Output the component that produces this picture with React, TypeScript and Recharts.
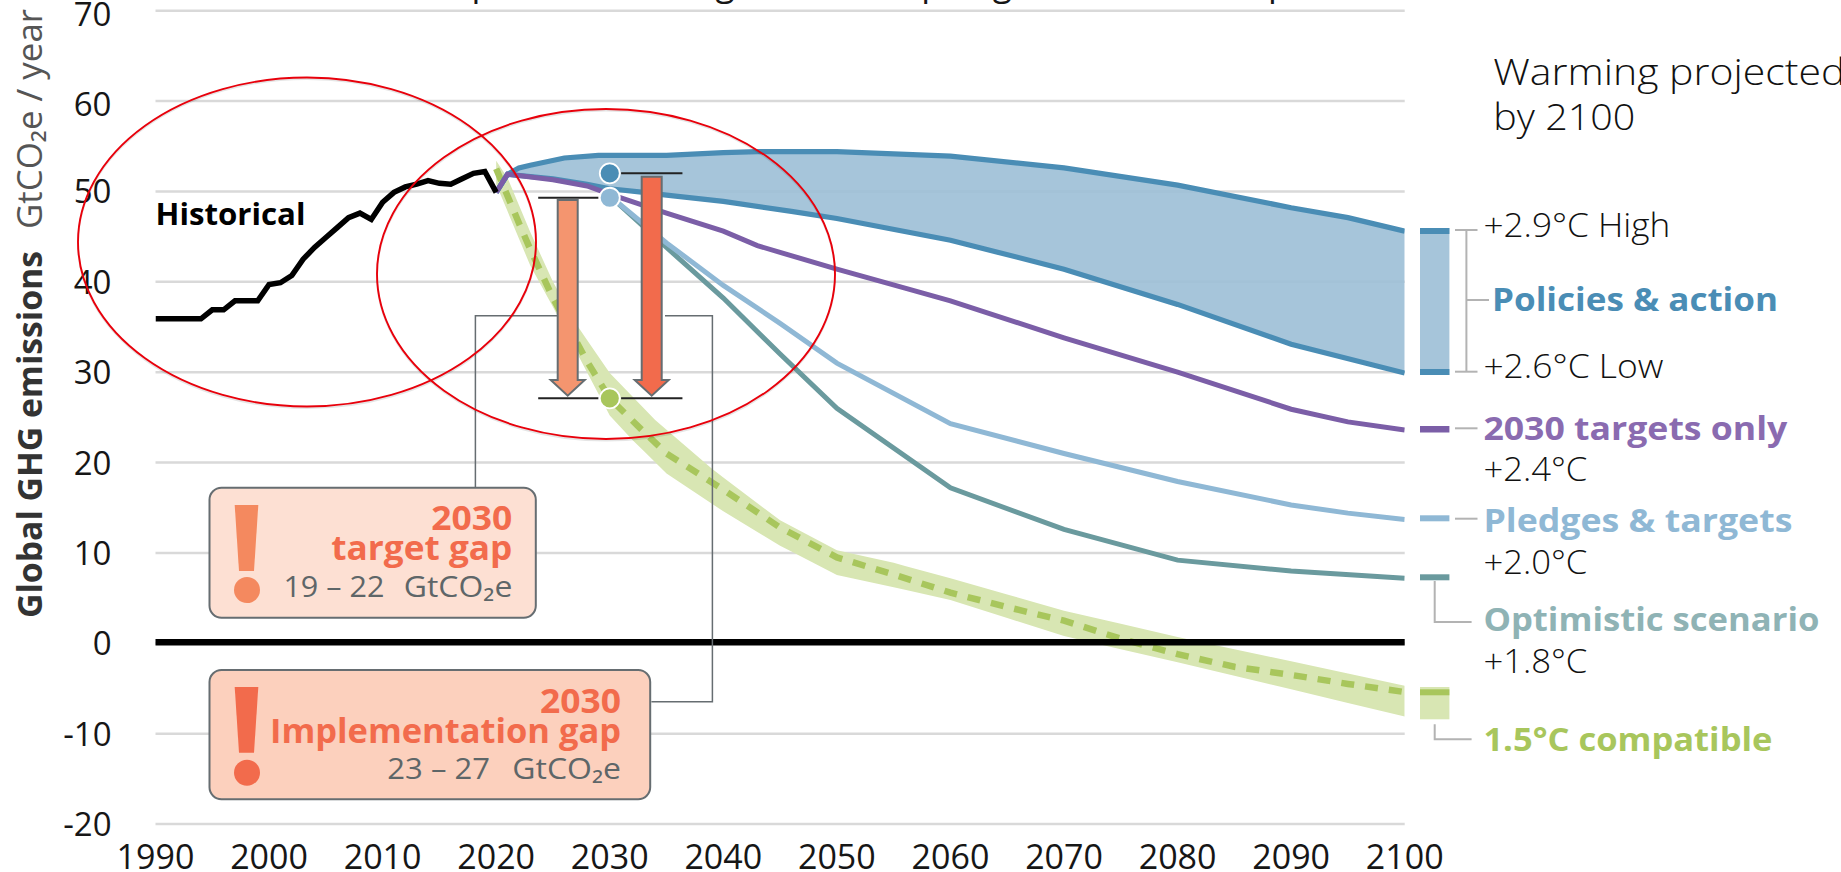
import React from "react";
import { ComposedChart, Line, Area, XAxis, YAxis, CartesianGrid, ReferenceLine, ReferenceDot } from "recharts";

const FONT = "'Open Sans', 'Noto Sans', sans-serif";
const xTicks = [1990, 2000, 2010, 2020, 2030, 2040, 2050, 2060, 2070, 2080, 2090, 2100];
const yTicks = [-20, -10, 0, 10, 20, 30, 40, 50, 60, 70];

const historical: [number, number][] = [[1990,35.9],[1991,35.9],[1992,35.9],[1993,35.9],[1994,35.9],[1995,36.9],[1996,36.9],[1997,37.9],[1998,37.9],[1999,37.9],[2000,39.7],[2001,39.9],[2002,40.7],[2003,42.5],[2004,43.8],[2005,44.9],[2006,46],[2007,47.1],[2008,47.6],[2009,46.9],[2010,48.8],[2011,49.9],[2012,50.5],[2013,50.8],[2014,51.2],[2015,50.9],[2016,50.8],[2017,51.4],[2018,52],[2019,52.2],[2020,49.9]];
const policiesHigh: [number, number][] = [[2020,49.9],[2021,51.9],[2022,52.6],[2023,52.9],[2026,53.7],[2029,54],[2035,54],[2040,54.3],[2043,54.4],[2050,54.4],[2060,53.9],[2070,52.6],[2080,50.7],[2090,48.2],[2095,47.1],[2100,45.6]];
const policiesLow: [number, number][] = [[2020,49.9],[2021,51.9],[2025,51.4],[2028,50.8],[2030,50.3],[2033,49.9],[2035,49.6],[2040,48.9],[2046,47.8],[2050,47],[2060,44.6],[2070,41.4],[2080,37.5],[2090,33.1],[2100,29.9]];
const targets2030: [number, number][] = [[2020,49.9],[2021,51.9],[2025,51.3],[2028,50.6],[2030,49.7],[2035,47.6],[2040,45.6],[2043,44],[2050,41.4],[2056,39.3],[2060,37.9],[2070,33.8],[2080,30],[2090,25.9],[2095,24.5],[2100,23.6]];
const pledges: [number, number][] = [[2030,49.5],[2035,44.3],[2040,39.6],[2045,35.4],[2050,31],[2060,24.3],[2070,21],[2080,17.9],[2090,15.3],[2095,14.4],[2100,13.7]];
const optimistic: [number, number][] = [[2030,49.5],[2035,43.8],[2040,38.2],[2045,32],[2050,26],[2060,17.2],[2070,12.6],[2080,9.2],[2090,8],[2100,7.2]];
const compat: [number, number][] = [[2020,52.5],[2021,49.5],[2022,46.5],[2023,43.6],[2025,38.2],[2028,31.2],[2030,27.1],[2033,23.4],[2035,21],[2040,17],[2045,12.8],[2050,9.5],[2055,7.6],[2060,5.6],[2065,4],[2070,2.5],[2075,0.5],[2080,-1.2],[2085,-2.6],[2090,-3.5],[2095,-4.5],[2100,-5.4]];
const compatHigh: [number, number][] = [[2020,53.4],[2021,51.5],[2023,45.5],[2025,40],[2027,35.4],[2030,29.9],[2034,24.7],[2039,19.3],[2045,13.6],[2050,10.3],[2055,8.9],[2060,7.2],[2070,3.6],[2080,0.7],[2090,-2],[2100,-4.7]];
const compatLow: [number, number][] = [[2020,50.8],[2023,41.8],[2025,37.2],[2030,25.2],[2032,22.5],[2035,18.8],[2040,14.6],[2045,10.8],[2050,7.55],[2055,6.2],[2060,4.8],[2070,0.8],[2080,-2.1],[2090,-5.1],[2100,-8.1]];
const gapHigh = 52;
const gapMid = 49.3;
const gapLow = 27.1;

const years = Array.from(new Set([historical, policiesHigh, policiesLow, targets2030, pledges, optimistic, compat, compatHigh, compatLow].flat().map((p) => p[0]))).sort((a, b) => a - b);
const at = (s: [number, number][], y: number) => { const f = s.find((p) => p[0] === y); return f ? f[1] : undefined; };
// value of a polyline at any listed year, so that two-edged bands share rows
const lerp = (s: [number, number][], y: number) => {
  if (y < s[0][0] || y > s[s.length - 1][0]) return undefined;
  for (let i = 1; i < s.length; i++) {
    if (y <= s[i][0]) { const [x0, v0] = s[i - 1]; const [x1, v1] = s[i]; return v0 + ((v1 - v0) * (y - x0)) / (x1 - x0); }
  }
  return undefined;
};
const band = (lo: [number, number][], hi: [number, number][], y: number) => { const a = lerp(lo, y); const b = lerp(hi, y); return a === undefined || b === undefined ? undefined : [a, b]; };
const table = years.map((year) => ({
  year,
  historical: at(historical, year), policiesHigh: at(policiesHigh, year), policiesLow: at(policiesLow, year),
  targets2030: at(targets2030, year), pledges: at(pledges, year), optimistic: at(optimistic, year), compat: at(compat, year),
  policiesBand: band(policiesLow, policiesHigh, year), compatBand: band(compatLow, compatHigh, year),
}));

const BLUE = "#4a8db5", LBLUE = "#8fb8d5", PURPLE = "#7b5ea7", TEAL = "#6a9a9e", GREEN = "#a8c65c", GREENF = "#d8e6b3", GREY = "#666d71", BR = "#b3b3b3", OR1 = "#f4895f", OR2 = "#f26b4c", INK = "#161616";

const T = (p: any) => <text fontFamily={FONT} fontSize={33} {...p} />;
const fit = (w: number) => ({ textLength: w, lengthAdjust: "spacingAndGlyphs" });

const XTick = ({ x, y, payload }: any) => (
  <text x={x} y={y + 33} textAnchor="middle" fontFamily={FONT} fontSize={34} fill={INK}>{payload.value}</text>
);
const YTick = ({ x, y, payload }: any) => (
  <text x={x} y={y + 12 + (payload.value >= 60 ? 3 : 0)} textAnchor="end" fontFamily={FONT} fontSize={33} fill={INK}>{payload.value}</text>
);

function Bang({ y0, y1, cy, fill }: any) {
  return <g fill={fill}>
    <polygon points={`234.7,${y0} 258.3,${y0} 254,${y1} 239,${y1}`} />
    <ellipse cx={247} cy={cy} rx={13} ry={13} />
  </g>;
}
function Arrow({ x0, x1, top, fill }: any) {
  const s = 380, tip = 395.7, o = 7;
  return <polygon points={`${x0},${top} ${x1},${top} ${x1},${s} ${x1 + o},${s} ${(x0 + x1) / 2},${tip} ${x0 - o},${s} ${x0},${s}`} fill={fill} stroke={GREY} strokeWidth={2} />;
}

export default function App() {
  return (
    <div style={{ position: "absolute", left: 0, top: 0, width: 1841, height: 872, overflow: "hidden", background: "#fff" }}>
      <div style={{ position: "absolute", left: 0, top: 0 }}>
        <ComposedChart width={1841} height={872} data={table} margin={{ top: 10.7, left: 95.5, right: 436.3, bottom: 0 }}>
          <CartesianGrid horizontal vertical={false} stroke="#d9d9d9" strokeWidth={2.5} syncWithTicks />
          <XAxis dataKey="year" type="number" domain={[1990, 2100]} ticks={xTicks} interval={0} height={48} axisLine={false} tickLine={false} tickMargin={6} tick={<XTick />} allowDataOverflow />
          <YAxis type="number" domain={[-20, 70]} ticks={yTicks} interval={0} width={60} axisLine={false} tickLine={false} tickMargin={38} tick={<YTick />} allowDataOverflow />
          <Area dataKey="compatBand" connectNulls stroke="none" fill={GREENF} fillOpacity={1} isAnimationActive={false} dot={false} activeDot={false} />
          <Area dataKey="policiesBand" connectNulls stroke="none" fill="#9cbfd6" fillOpacity={0.9} isAnimationActive={false} dot={false} activeDot={false} />
          <Line dataKey="compat" connectNulls stroke={GREEN} strokeWidth={6.5} strokeDasharray="13 11" dot={false} isAnimationActive={false} />
          <ReferenceLine y={0.1} stroke="#000" strokeWidth={6.5} />
          <Line dataKey="optimistic" connectNulls stroke={TEAL} strokeWidth={5} dot={false} isAnimationActive={false} />
          <Line dataKey="pledges" connectNulls stroke={LBLUE} strokeWidth={5} dot={false} isAnimationActive={false} />
          <Line dataKey="policiesHigh" connectNulls stroke={BLUE} strokeWidth={5.2} dot={false} isAnimationActive={false} />
          <Line dataKey="policiesLow" connectNulls stroke={BLUE} strokeWidth={5.2} dot={false} isAnimationActive={false} />
          <Line dataKey="targets2030" connectNulls stroke={PURPLE} strokeWidth={5} dot={false} isAnimationActive={false} />
          <Line dataKey="historical" connectNulls stroke="#000" strokeWidth={5.5} dot={false} isAnimationActive={false} />
          <ReferenceLine segment={[{ x: 2031, y: gapHigh }, { x: 2036.4, y: gapHigh }]} stroke="#222" strokeWidth={2} />
          <ReferenceLine segment={[{ x: 2023.7, y: gapMid }, { x: 2029, y: gapMid }]} stroke="#222" strokeWidth={2} />
          <ReferenceLine segment={[{ x: 2023.7, y: gapLow }, { x: 2029, y: gapLow }]} stroke="#222" strokeWidth={2} />
          <ReferenceLine segment={[{ x: 2031, y: gapLow }, { x: 2036.4, y: gapLow }]} stroke="#222" strokeWidth={2} />
          <ReferenceDot x={2030} y={gapHigh} r={10} fill={BLUE} stroke="#fff" strokeWidth={1.8} />
          <ReferenceDot x={2030} y={gapMid} r={10} fill={LBLUE} stroke="#fff" strokeWidth={1.8} />
          <ReferenceDot x={2030} y={gapLow} r={10} fill={GREEN} stroke="#fff" strokeWidth={1.8} />
        </ComposedChart>
      </div>
      <svg width={1841} height={872} style={{ position: "absolute", left: 0, top: 0 }}>
        {/* title, cut by the top edge of the picture as in the original */}
        <T x={734.5} y={-4.4} textAnchor="end" fontSize={35} fill={INK}>Emissions and expected warming</T>
        <T x={1048} y={-4.4} textAnchor="end" fontSize={35} fill={INK}>based on pledges</T>
        <T x={1259} y={-4.4} textAnchor="end" fontSize={35} fill={INK}>and current</T>
        <T x={1268} y={-4.4} fontSize={35} fill={INK}>policies</T>

        {/* y axis title */}
        <g transform="translate(42,618) rotate(-90)">
          <T x={0} y={0} fontWeight={700} fill="#333" fontSize={34} {...fit(367)}>Global GHG emissions</T>
          <T x={389} y={0} fontWeight={400} fill="#555" fontSize={34} {...fit(220)}>GtCO₂e / year</T>
        </g>
        <T x={155.5} y={225} fontWeight={700} fill="#000" fontSize={30} {...fit(150)}>Historical</T>

        {/* connectors */}
        <polyline points="475.4,487.7 475.4,315.7 557,315.7" fill="none" stroke={GREY} strokeWidth={1.5} />
        <polyline points="651.4,701.7 712.4,701.7 712.4,315.7 665,315.7" fill="none" stroke={GREY} strokeWidth={1.5} />

        {/* gap arrows */}
        <Arrow x0={557.7} x1={577.7} top={200} fill="#f4956f" />
        <Arrow x0={641.7} x1={661.7} top={176.7} fill={OR2} />

        {/* callouts */}
        <rect x={209.5} y={487.7} width={326.3} height={130} rx={12} fill="#fde0d3" stroke={GREY} strokeWidth={2} />
        <Bang y0={505} y1={571} cy={590} fill={OR1} />
        <T x={512.3} y={530.3} textAnchor="end" fontWeight={700} fill={OR2} fontSize={34} {...fit(81)}>2030</T>
        <T x={512.3} y={560} textAnchor="end" fontWeight={700} fill={OR2} fontSize={34} {...fit(181)}>target gap</T>
        <T x={384.4} y={597} textAnchor="end" fill="#5e6668" fontSize={30} {...fit(101)}>19 – 22</T>
        <T x={512.3} y={597} textAnchor="end" fill="#5e6668" fontSize={30} {...fit(108.5)}>GtCO₂e</T>

        <rect x={209.5} y={670} width={440.7} height={129.3} rx={12} fill="#fcd0bd" stroke={GREY} strokeWidth={2} />
        <Bang y0={687} y1={752.7} cy={772.7} fill={OR2} />
        <T x={621} y={712.7} textAnchor="end" fontWeight={700} fill={OR2} fontSize={34} {...fit(81)}>2030</T>
        <T x={621} y={742.7} textAnchor="end" fontWeight={700} fill={OR2} fontSize={34} {...fit(351)}>Implementation gap</T>
        <T x={490} y={779} textAnchor="end" fill="#5e6668" fontSize={30} {...fit(102.7)}>23 – 27</T>
        <T x={621} y={779} textAnchor="end" fill="#5e6668" fontSize={30} {...fit(108.7)}>GtCO₂e</T>

        {/* right legend marks */}
        <rect x={1420} y={228} width={29.4} height={147} fill="#a6c5da" />
        <rect x={1420} y={228} width={29.4} height={6} fill={BLUE} />
        <rect x={1420} y={369} width={29.4} height={6} fill={BLUE} />
        <rect x={1420} y={426} width={29.4} height={6.5} fill={PURPLE} />
        <rect x={1420} y={515.3} width={29.4} height={6} fill={LBLUE} />
        <rect x={1420} y={574.3} width={29.4} height={6} fill={TEAL} />
        <rect x={1420} y={687} width={29.4} height={32.3} fill={GREENF} />
        <rect x={1420} y={689.3} width={29.4} height={6} fill={GREEN} />

        {/* brackets */}
        <g fill="none" stroke={BR} strokeWidth={2}>
          <polyline points="1455,230 1477.5,230" />
          <polyline points="1466.4,230 1466.4,371.7" />
          <polyline points="1455,371.7 1477.5,371.7" />
          <polyline points="1466.4,300 1489,300" />
          <polyline points="1455,428.3 1477.5,428.3" />
          <polyline points="1455,518.7 1477.5,518.7" />
          <polyline points="1434.7,581 1434.7,622 1471.6,622" />
          <polyline points="1434.7,724.3 1434.7,739.3 1471.6,739.3" />
        </g>

        {/* right texts */}
        <T x={1493.3} y={85} fontSize={37} fontWeight={300} fill="#111" {...fit(352)}>Warming projected</T>
        <T x={1493.3} y={130} fontSize={37} fontWeight={300} fill="#111" {...fit(142)}>by 2100</T>
        <T x={1483.4} y={237.3} fontWeight={300} fill="#111" {...fit(187)}>+2.9°C High</T>
        <T x={1492} y={310.7} fontWeight={700} fill={BLUE} {...fit(286)}>Policies &amp; action</T>
        <T x={1483.4} y={377.7} fontWeight={300} fill="#111" {...fit(180)}>+2.6°C Low</T>
        <T x={1483.4} y={440} fontWeight={700} fill="#8a6bb0" {...fit(304)}>2030 targets only</T>
        <T x={1483.4} y={481} fontWeight={300} fill="#111" {...fit(104)}>+2.4°C</T>
        <T x={1483.4} y={532} fontWeight={700} fill={LBLUE} {...fit(309)}>Pledges &amp; targets</T>
        <T x={1483.4} y={574.3} fontWeight={300} fill="#111" {...fit(104)}>+2.0°C</T>
        <T x={1483.4} y={631} fontWeight={700} fill="#8fb3b5" {...fit(336)}>Optimistic scenario</T>
        <T x={1483.4} y={673.3} fontWeight={300} fill="#111" {...fit(104)}>+1.8°C</T>
        <T x={1483.4} y={751} fontWeight={700} fill={GREEN} {...fit(289)}>1.5°C compatible</T>

        {/* red ellipses */}
        <g fill="none">
          <ellipse cx={307} cy={243.5} rx={229} ry={164.5} stroke="#000" strokeOpacity={0.1} strokeWidth={2} />
          <ellipse cx={606} cy={275.5} rx={229} ry={165} stroke="#000" strokeOpacity={0.1} strokeWidth={2} />
          <ellipse cx={307} cy={242} rx={229} ry={164.5} stroke="#e8000b" strokeWidth={1.9} />
          <ellipse cx={606} cy={274} rx={229} ry={165} stroke="#e8000b" strokeWidth={1.9} />
        </g>
      </svg>
    </div>
  );
}
